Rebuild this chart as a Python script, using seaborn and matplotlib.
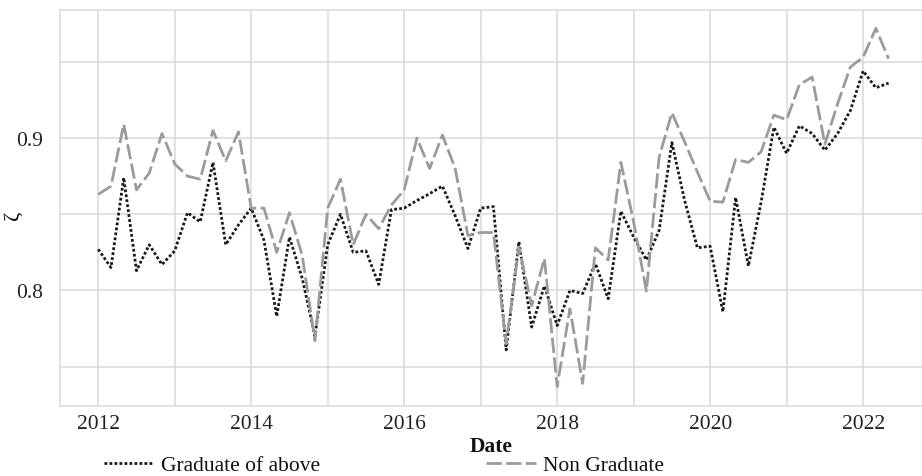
import numpy as np
import pandas as pd
import matplotlib
matplotlib.use("Agg")
import matplotlib.pyplot as plt
from matplotlib.ticker import MultipleLocator
import seaborn as sns

# Bimonthly observations, Jan 2012 - May 2022
dates = pd.date_range("2012-01-01", periods=63, freq="2MS")
decimal_year = dates.year + (dates.month - 1) / 12

graduate = [
    0.827, 0.815, 0.874, 0.813, 0.830, 0.817, 0.826, 0.851, 0.845, 0.884,
    0.830, 0.843, 0.854, 0.833, 0.783, 0.835, 0.808, 0.770, 0.830, 0.850,
    0.825, 0.826, 0.804, 0.853, 0.854, 0.859, 0.8635, 0.8685, 0.849, 0.8275,
    0.854, 0.855, 0.761, 0.832, 0.776, 0.803, 0.777, 0.800, 0.798, 0.8176,
    0.7946, 0.852, 0.835, 0.820, 0.8395, 0.897, 0.859, 0.828, 0.829, 0.786,
    0.861, 0.816, 0.858, 0.907, 0.890, 0.908, 0.903, 0.892, 0.903, 0.918,
    0.944, 0.933, 0.936,
]
non_graduate = [
    0.863, 0.8685, 0.909, 0.866, 0.877, 0.903, 0.883, 0.875, 0.873, 0.905,
    0.885, 0.904, 0.854, 0.854, 0.825, 0.851, 0.823, 0.767, 0.854, 0.873,
    0.830, 0.850, 0.8405, 0.856, 0.866, 0.900, 0.880, 0.902, 0.880, 0.836,
    0.838, 0.838, 0.765, 0.8285, 0.790, 0.821, 0.737, 0.788, 0.739, 0.828,
    0.820, 0.884, 0.845, 0.7995, 0.8875, 0.9166, 0.8975, 0.8777, 0.8585, 0.858,
    0.886, 0.884, 0.891, 0.915, 0.912, 0.935, 0.940, 0.896, 0.9225, 0.9466,
    0.953, 0.972, 0.952,
]
groups = ["Graduate of above", "Non Graduate"]

df = pd.DataFrame({
    "Date": np.concatenate([decimal_year, decimal_year]),
    "zeta": graduate + non_graduate,
    "group": [groups[0]] * len(graduate) + [groups[1]] * len(non_graduate),
})

sns.set_theme(style="whitegrid")
plt.rcParams["font.family"] = ["Liberation Serif", "DejaVu Serif"]
plt.rcParams["mathtext.fontset"] = "dejavuserif"

grid_col = "#d9d9d9"
fig = plt.figure(figsize=(9.22, 4.77), dpi=100)
ax = fig.add_axes([60 / 922, 1 - 407 / 477, 1 - 60 / 922, (407 - 11) / 477])

sns.lineplot(
    data=df, x="Date", y="zeta", hue="group", style="group",
    palette={groups[0]: "#1a1a1a", groups[1]: "#9b9b9b"},
    dashes={groups[0]: (1, 0.8), groups[1]: (5.5, 1.6)},
    linewidth=2.0, ax=ax, legend=False,
)

ax.set_xlim(2011.5, 2022.77)
ax.set_ylim(0.7242, 0.984)
ax.xaxis.set_major_locator(MultipleLocator(2))
ax.xaxis.set_minor_locator(MultipleLocator(1))
ax.yaxis.set_major_locator(MultipleLocator(0.1))
ax.yaxis.set_minor_locator(MultipleLocator(0.05))
ax.set_xticks([2012, 2014, 2016, 2018, 2020, 2022])
ax.set_xticklabels(["2012", "2014", "2016", "2018", "2020", "2022"])
ax.set_yticks([0.8, 0.9])
ax.set_yticklabels(["0.8", "0.9"])
ax.grid(which="both", color=grid_col, linewidth=1.1)
ax.tick_params(axis="both", which="both", length=0, labelsize=15.5, colors="#222222")
ax.tick_params(axis="x", pad=6)
ax.tick_params(axis="y", pad=12)

for side in ["top", "bottom", "left"]:
    ax.spines[side].set_visible(True)
    ax.spines[side].set_color(grid_col)
    ax.spines[side].set_linewidth(1.1)
ax.spines["right"].set_visible(False)

ax.set_xlabel("Date", fontsize=15.5, fontweight="bold", color="#111111", labelpad=2)
ax.set_ylabel("ζ", fontsize=16, color="#111111", va="center")
ax.yaxis.set_label_coords(-47 / 862, 0.485)

# One legend entry per series, laid out in a row under the axis title
handles = ax.get_lines()
anchors = [(104 / 922, 1 - 466 / 477), (486 / 922, 1 - 466 / 477)]
for h, label, anchor in zip(handles[:2], groups, anchors):
    leg = fig.legend([h], [label], loc="center left", bbox_to_anchor=anchor,
                     frameon=False, fontsize=15.5, handlelength=2.3,
                     handletextpad=0.35, borderpad=0, borderaxespad=0)
    for t in leg.get_texts():
        t.set_color("#111111")

fig.savefig("out.png", dpi=100)
